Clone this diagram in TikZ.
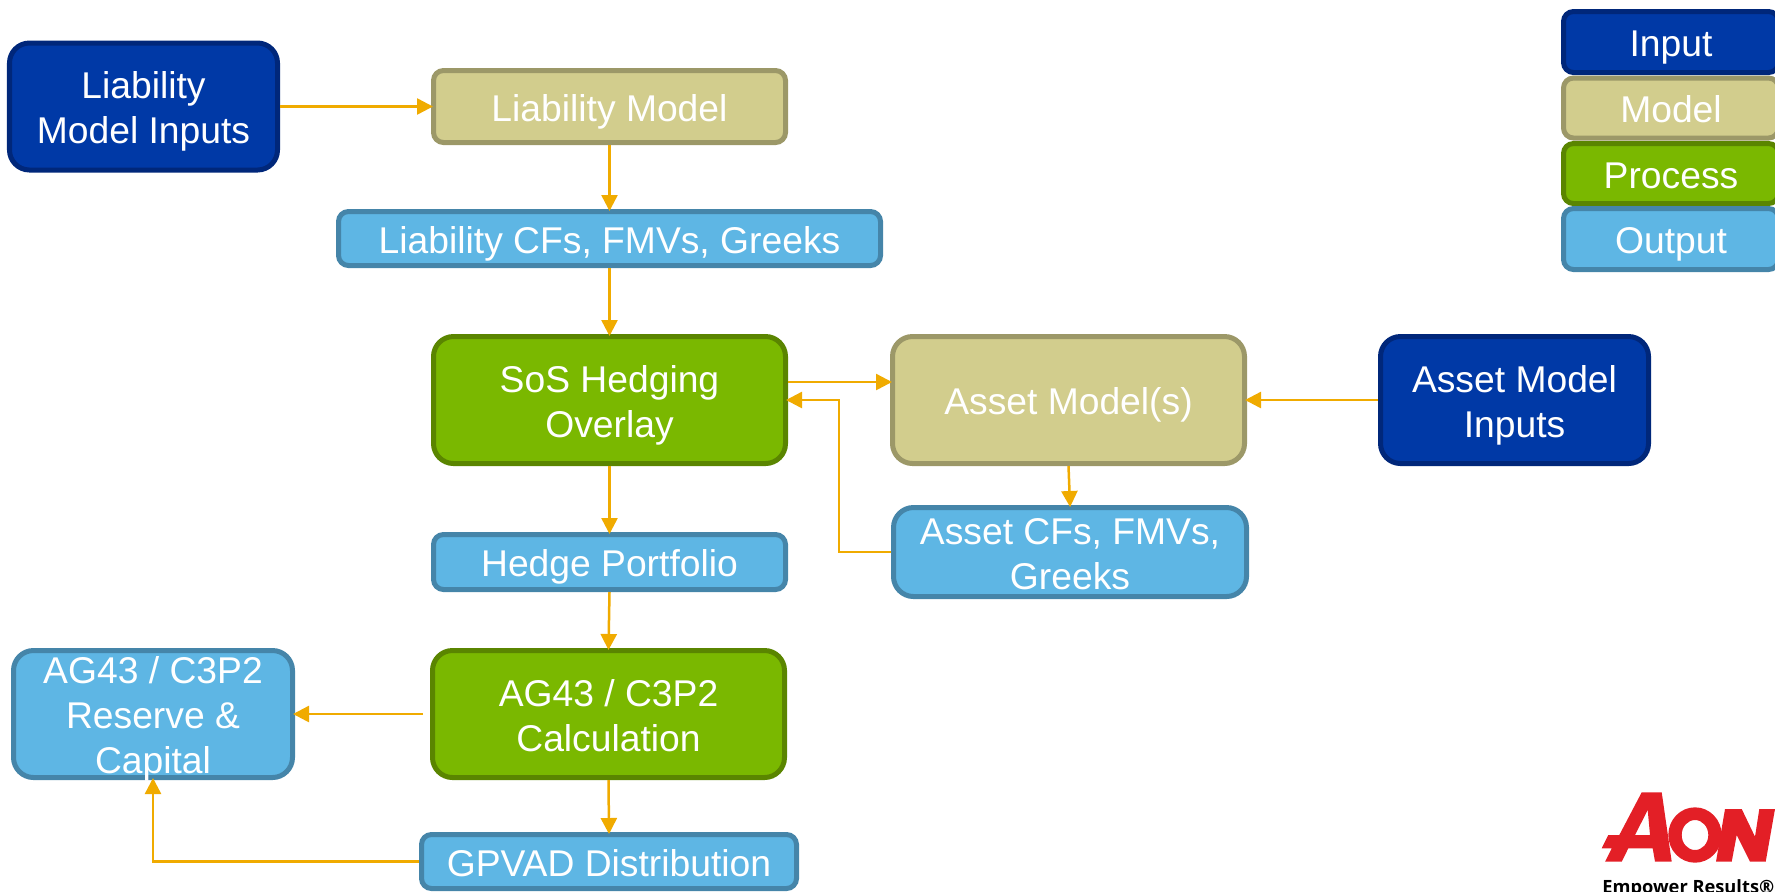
\documentclass[tikz,border=0pt]{standalone}
\usepackage{fontspec}
\setmainfont{Liberation Sans}
\newfontfamily\logofont{Open Sans}
\usetikzlibrary{arrows.meta}

\definecolor{inputfill}{HTML}{0039A6}
\definecolor{inputline}{HTML}{00277A}
\definecolor{modelfill}{HTML}{D2CD8D}
\definecolor{modelline}{HTML}{9C9868}
\definecolor{processfill}{HTML}{7AB800}
\definecolor{processline}{HTML}{5A8500}
\definecolor{outputfill}{HTML}{5EB6E4}
\definecolor{outputline}{HTML}{4585A9}
\definecolor{flowline}{HTML}{F0AB00}
\definecolor{aonred}{HTML}{E31F26}

\tikzset{
	stagebox/.style={line width=0.05cm, inner sep=0pt, align=center, text=white,
		text height=0.33cm, text depth=0.038cm,
		font=\fontsize{10.6}{12.8}\selectfont},
	twolines/.style={text height=0.78cm},
	threelines/.style={text height=1.23cm},
	bigcorner/.style={rounded corners=0.2cm},
	smallcorner/.style={rounded corners=0.1cm},
	inputbox/.style={stagebox, fill=inputfill, draw=inputline},
	modelbox/.style={stagebox, fill=modelfill, draw=modelline},
	processbox/.style={stagebox, fill=processfill, draw=processline},
	outputbox/.style={stagebox, fill=outputfill, draw=outputline},
	flow/.style={draw=flowline, line width=0.025cm, shorten >=-0.02cm, -{Triangle[length=0.16cm,width=0.16cm]}}
}

\begin{document}
\begin{tikzpicture}
	\useasboundingbox (0,0) rectangle (17.75,-8.91);

	\newcommand{\Wide}{3.52}
	\newcommand{\Tall}{1.27}
	\newcommand{\Side}{2.68}

	% flow boxes
	\node[inputbox, twolines, bigcorner, minimum width=\Side cm, minimum height=\Tall cm] (LiabInputs) at (1.435,-1.065) {Liability\\Model Inputs};
	\node[modelbox, smallcorner, minimum width=\Wide cm, minimum height=0.72cm] (LiabModel) at (6.095,-1.065) {Liability Model};
	\node[outputbox, smallcorner, minimum width=5.42cm, minimum height=0.54cm] (LiabOut) at (6.095,-2.385) {Liability CFs, FMVs, Greeks};
	\node[processbox, twolines, bigcorner, minimum width=\Wide cm, minimum height=\Tall cm] (Hedging) at (6.095,-4.00) {SoS Hedging\\Overlay};
	\node[modelbox, bigcorner, minimum width=\Wide cm, minimum height=\Tall cm] (AssetModel) at (10.685,-4.00) {Asset Model(s)};
	\node[inputbox, twolines, bigcorner, minimum width=\Side cm, minimum height=\Tall cm] (AssetInputs) at (15.145,-4.00) {Asset Model\\Inputs};
	\node[outputbox, twolines, bigcorner, minimum width=3.53cm, minimum height=0.89cm] (AssetOut) at (10.70,-5.52) {Asset CFs, FMVs,\\Greeks};
	\node[outputbox, smallcorner, minimum width=\Wide cm, minimum height=0.55cm] (HedgePort) at (6.095,-5.62) {Hedge Portfolio};
	\node[processbox, twolines, bigcorner, minimum width=\Wide cm, minimum height=\Tall cm] (Calc) at (6.085,-7.14) {AG43 / C3P2\\Calculation};
	\node[outputbox, threelines, bigcorner, minimum width=2.79cm, minimum height=\Tall cm] (Reserve) at (1.53,-7.14) {AG43 / C3P2\\Reserve \&\\Capital};
	\node[outputbox, smallcorner, minimum width=3.75cm, minimum height=0.54cm] (Gpvad) at (6.09,-8.615) {GPVAD Distribution};

	% legend
	\node[inputbox, smallcorner, minimum width=2.15cm, minimum height=0.61cm] (KeyInput) at (16.71,-0.42) {Input};
	\node[modelbox, smallcorner, minimum width=2.15cm, minimum height=0.60cm] (KeyModel) at (16.71,-1.08) {Model};
	\node[processbox, smallcorner, minimum width=2.15cm, minimum height=0.60cm] (KeyProcess) at (16.71,-1.735) {Process};
	\node[outputbox, smallcorner, minimum width=2.15cm, minimum height=0.61cm] (KeyOutput) at (16.71,-2.39) {Output};

	% arrows
	\draw[flow] (LiabInputs.east) -- (LiabModel.west);
	\draw[flow] (LiabModel.south) -- (LiabOut.north);
	\draw[flow] (LiabOut.south) -- (Hedging.north);
	\draw[flow] ([yshift=0.18cm]Hedging.east) -- ([yshift=0.18cm]AssetModel.west);
	\draw[flow] (AssetInputs.west) -- (AssetModel.east);
	\draw[flow] (AssetModel.south) -- (AssetOut.north);
	\draw[flow] (AssetOut.west) -| (8.39,-4.00) -- (Hedging.east);
	\draw[flow] (Hedging.south) -- (HedgePort.north);
	\draw[flow] (HedgePort.south) -- (Calc.north);
	\draw[flow] ([xshift=-0.07cm]Calc.west) -- (Reserve.east);
	\draw[flow] (Calc.south) -- (Gpvad.north);
	\draw[flow] (Gpvad.west) -| (Reserve.south);

	% logo
	\fill[aonred, even odd rule] (16.417,-7.923) -- (16.617,-7.923) -- (16.717,-8.617) -- (16.55,-8.617) -- (16.527,-8.483)
		-- (16.283,-8.483) -- (16.217,-8.617) -- (16.05,-8.617) -- (16.117,-8.483) -- (16.017,-8.483)
		-- (16.083,-8.35) -- (16.193,-8.35) -- cycle
		(16.477,-8.10) -- (16.35,-8.35) -- (16.50,-8.35) -- cycle;
	\fill[aonred, even odd rule] (16.95,-8.35) ellipse (0.267cm and 0.277cm) (16.95,-8.35) ellipse (0.133cm and 0.15cm);
	\fill[aonred] (17.25,-8.09) -- (17.417,-8.09) -- (17.55,-8.367) -- (17.593,-8.09) -- (17.75,-8.09)
		-- (17.657,-8.617) -- (17.50,-8.617) -- (17.367,-8.35) -- (17.317,-8.617) -- (17.16,-8.617) -- cycle;
	\node[anchor=base east, inner sep=0pt, font=\logofont\bfseries\fontsize{5.2}{6}\selectfont] (LogoText) at (17.75,-8.93) {Empower Results®};
\end{tikzpicture}
\end{document}
